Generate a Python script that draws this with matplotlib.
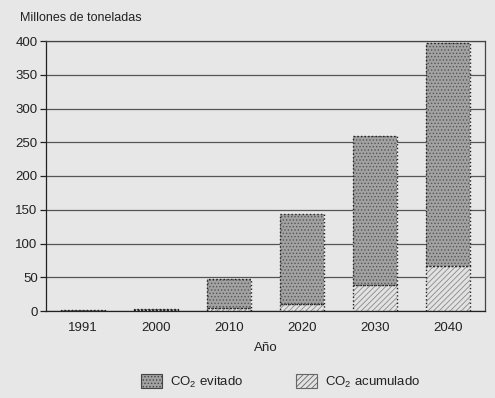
import matplotlib
matplotlib.use("Agg")
import matplotlib.pyplot as plt
import numpy as np

years = ["1991", "2000", "2010", "2020", "2030", "2040"]
acumulado = [0.5, 1, 4, 11, 38, 67]
total = [1, 3.5, 48, 143, 260, 397]
evitado = [t - a for t, a in zip(total, acumulado)]
yticks = [0, 50, 100, 150, 200, 250, 300, 350, 400]

plt.rcParams['font.family'] = ['Liberation Sans', 'DejaVu Sans']
plt.rcParams['mathtext.fontset'] = 'custom'
plt.rcParams['mathtext.rm'] = 'Liberation Sans'
plt.rcParams['mathtext.it'] = 'Liberation Sans:italic'
plt.rcParams['hatch.linewidth'] = 0.6

bg = '#e7e7e7'
fig = plt.figure(figsize=(4.95, 3.98), dpi=100, facecolor=bg)
ax = fig.add_axes([46/495, 1-311/398, 439/495, 270/398])
ax.set_facecolor(bg)

x = np.arange(len(years))
w = 0.6
ax.bar(x, acumulado, w, color='#e2e2e2', hatch='//////', edgecolor='#8a8a8a', linewidth=0, zorder=2)
ax.bar(x, evitado, w, bottom=acumulado, color='#a2a2a2', hatch='.....', edgecolor='#555555', linewidth=0, zorder=2)
ax.bar(x, acumulado, w, fill=False, edgecolor='#222222', linewidth=1.0, linestyle=':', zorder=3)
ax.bar(x, evitado, w, bottom=acumulado, fill=False, edgecolor='#222222', linewidth=1.0, linestyle=':', zorder=3)

ax.set_xlim(-0.5, len(years) - 0.5)
ax.set_ylim(0, 400)
ax.set_yticks(yticks)
ax.set_xticks(x)
ax.set_xticklabels(years)
ax.tick_params(axis='x', length=0, pad=8, labelsize=9.5, colors='#222222')
ax.tick_params(axis='y', length=4, width=0.9, pad=2, labelsize=9.5, colors='#222222')
ax.yaxis.grid(True, color='#555555', linewidth=0.9)
ax.set_axisbelow(True)
for s in ax.spines.values():
    s.set_color('#444444')
    s.set_linewidth(0.9)
ax.spines['left'].set_color('#222222')
ax.spines['bottom'].set_color('#222222')

ax.set_xlabel('Año', fontsize=9.5, color='#222222', labelpad=6)
fig.text(20/495, 1-18/398, 'Millones de toneladas', fontsize=9, color='#222222', va='center', ha='left')

from matplotlib.patches import Patch
handles = [Patch(facecolor='#a2a2a2', hatch='.....', edgecolor='#444444', linewidth=0.8),
           Patch(facecolor='#e2e2e2', hatch='//////', edgecolor='#666666', linewidth=0.8)]
leg = fig.legend(handles, [r'CO$_\mathrm{2}$ evitado', r'CO$_\mathrm{2}$ acumulado'],
                 loc='center', bbox_to_anchor=(281/495, 1-382/398), ncol=2, frameon=False,
                 fontsize=9.5, handlelength=1.6, handleheight=1.2, columnspacing=4, handletextpad=0.6)
for t in leg.get_texts():
    t.set_color('#222222')

fig.savefig('out.png', dpi=100, facecolor=bg)
